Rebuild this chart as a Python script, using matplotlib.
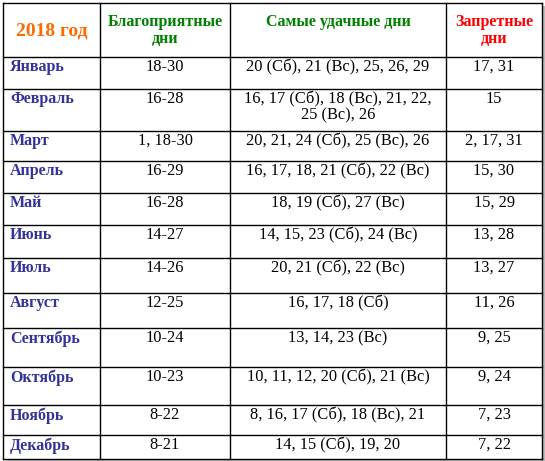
import matplotlib.pyplot as plt
from matplotlib.patches import Rectangle

W, H = 545, 461

headers = ["2018 год", "Благоприятные\nдни", "Самые удачные дни", "Запретные\nдни"]
header_colors = ["#ff6a00", "#008000", "#008000", "#ff0000"]
months = ["Январь", "Февраль", "Март", "Апрель", "Май", "Июнь", "Июль",
          "Август", "Сентябрь", "Октябрь", "Ноябрь", "Декабрь"]
good_days = ["18-30", "16-28", "1, 18-30", "16-29", "16-28", "14-27", "14-26",
             "12-25", "10-24", "10-23", "8-22", "8-21"]
best_days = ["20 (Сб), 21 (Вс), 25, 26, 29",
             "16, 17 (Сб), 18 (Вс), 21, 22,\n25 (Вс), 26",
             "20, 21, 24 (Сб), 25 (Вс), 26",
             "16, 17, 18, 21 (Сб), 22 (Вс)",
             "18, 19 (Сб), 27 (Вс)",
             "14, 15, 23 (Сб), 24 (Вс)",
             "20, 21 (Сб), 22 (Вс)",
             "16, 17, 18 (Сб)",
             "13, 14, 23 (Вс)",
             "10, 11, 12, 20 (Сб), 21 (Вс)",
             "8, 16, 17 (Сб), 18 (Вс), 21",
             "14, 15 (Сб), 19, 20"]
bad_days = ["17, 31", "15", "2, 17, 31", "15, 30", "15, 29", "13, 28", "13, 27",
            "11, 26", "9, 25", "9, 24", "7, 23", "7, 22"]

col_x = [3, 100, 230, 446, 542]
row_y = [3, 57, 89, 131, 161, 193, 225, 258, 293, 328, 367, 405, 435, 459]

fig = plt.figure(figsize=(W / 100, H / 100), dpi=100)
ax = fig.add_axes([0, 0, 1, 1])
ax.set_xlim(0, W)
ax.set_ylim(H, 0)
ax.axis("off")

# shadow
ax.add_patch(Rectangle((col_x[0] + 3, row_y[0] + 3), col_x[-1] - col_x[0], row_y[-1] - row_y[0],
                       facecolor="#bbbbbb", edgecolor="none"))
ax.add_patch(Rectangle((col_x[0], row_y[0]), col_x[-1] - col_x[0], row_y[-1] - row_y[0],
                       facecolor="white", edgecolor="none"))
for x in col_x:
    ax.plot([x, x], [row_y[0], row_y[-1]], color="black", lw=1)
for y in row_y:
    ax.plot([col_x[0], col_x[-1]], [y, y], color="black", lw=1)

font = "Liberation Serif"
fs = 11.5
# header
for i, (h, c) in enumerate(zip(headers, header_colors)):
    cx = (col_x[i] + col_x[i + 1]) / 2
    size = 14 if i == 0 else fs
    y = 31 if i == 0 else 14
    ax.text(cx, y, h, ha="center", va="top" if i else "center", color=c,
            fontsize=size, fontweight="bold", family=font, linespacing=1.1)

for r in range(len(months)):
    ty = row_y[r + 1] + 2
    ax.text(col_x[0] + 7, ty, months[r], ha="left", va="top", color="#333399",
            fontsize=fs, fontweight="bold", family=font)
    for ci, txt in [(1, good_days[r]), (2, best_days[r]), (3, bad_days[r])]:
        cx = (col_x[ci] + col_x[ci + 1]) / 2
        ax.text(cx, ty, txt, ha="center", va="top", color="black",
                fontsize=fs + 0.3, family=font, linespacing=1.0)

fig.savefig("out.png", dpi=100)
